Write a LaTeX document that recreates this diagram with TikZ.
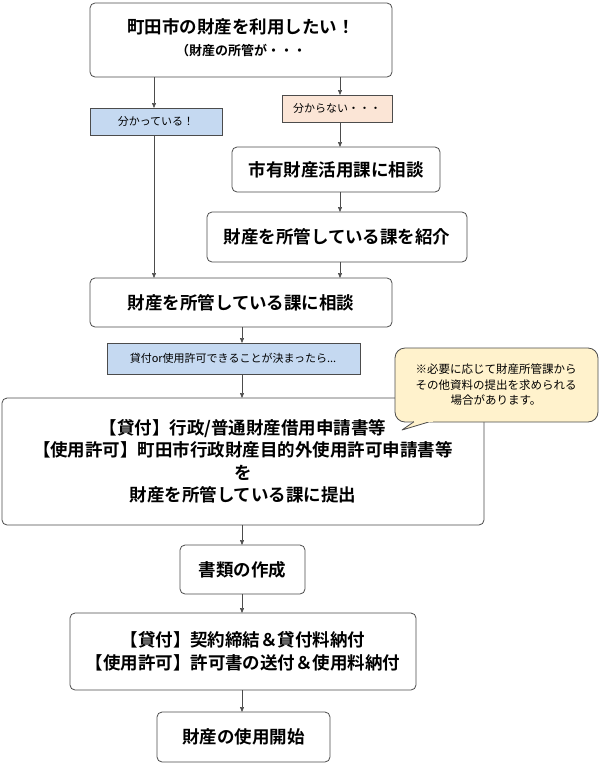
\documentclass[tikz,border=0pt]{standalone}
\usepackage{fontspec}
\setmainfont{Noto Sans CJK JP}[BoldFont={Noto Sans CJK JP Bold}]
\usetikzlibrary{arrows.meta}
\definecolor{lblue}{HTML}{C5D9F1}
\definecolor{peach}{HTML}{FBE5D6}
\definecolor{cream}{HTML}{FFF2CC}
\begin{document}
\begin{tikzpicture}[x=1pt,y=-1pt,
 box/.style={draw=black!70,line width=0.8pt,rounded corners=5pt,fill=white},
 lab/.style={draw=black!70,line width=0.6pt},
 arr/.style={-{Triangle[length=5pt,width=4pt]},draw=black!70,line width=0.6pt},
 big/.style={font=\fontsize{17.5}{22.5}\selectfont\bfseries},
 sm/.style={font=\fontsize{11}{14}\selectfont}]
\useasboundingbox (0,0) rectangle (600,764);
\draw[box] (90,3) rectangle (392,77);
\node[big] (t1) at (241,27) {町田市の財産を利用したい！};
\node[font=\fontsize{13}{16}\selectfont\bfseries] (t2) at (241,51) {（財産の所管が・・・};
\draw[lab,fill=lblue] (90,108) rectangle (222,135);
\node[sm] (lk) at (156,121.5) {分かっている！};
\draw[lab,fill=peach] (282,95) rectangle (392,122);
\node[sm] (lu) at (337,108.5) {分からない・・・};
\draw[box] (232,147) rectangle (440,192); \node[big] (c1) at (336,169.5) {市有財産活用課に相談};
\draw[box] (207,212) rectangle (467,262); \node[big] (c2) at (337,237) {財産を所管している課を紹介};
\draw[box] (90,278) rectangle (392,327); \node[big] (c3) at (241,302.5) {財産を所管している課に相談};
\draw[lab,fill=lblue] (107,343) rectangle (360,374);
\node[sm] (ld) at (233,358.5) {貸付or使用許可できることが決まったら...};
\draw[box] (2,398) rectangle (484,525);
\node[big,align=center] (c4) at (243,461.5) {【貸付】行政/普通財産借用申請書等\\【使用許可】町田市行政財産目的外使用許可申請書等\\を\\財産を所管している課に提出};
\draw[draw=black!70,line width=0.8pt,fill=cream,rounded corners=10pt]
 (430,422) -- (598,422) -- (598,348) -- (395,348) -- (395,422) -- (415,422);
\draw[draw=black!70,line width=0.8pt,fill=cream,line join=round] (415,421) -- (402,430) -- (432,421);
\fill[cream] (414,419) rectangle (433,421.5);
\node[font=\fontsize{11.5}{15.5}\selectfont,align=center] (note) at (496,385) {※必要に応じて財産所管課から\\その他資料の提出を求められる\\場合があります。};
\draw[box] (180,545) rectangle (305,594); \node[big] (c5) at (242.5,569.5) {書類の作成};
\draw[box] (70,613) rectangle (416,690);
\node[big,align=center] (c6) at (243,651.5) {【貸付】契約締結＆貸付料納付\\【使用許可】許可書の送付＆使用料納付};
\draw[box] (157,712) rectangle (330,762); \node[big] (c7) at (243.5,737) {財産の使用開始};
\draw[arr] (154,77) -- (154,108);
\draw[arr] (340,77) -- (340,95);
\draw[arr] (340,122) -- (340,147);
\draw[arr] (340,192) -- (340,212);
\draw[arr] (154,135) -- (154,278);
\draw[arr] (340,262) -- (340,278);
\draw[arr] (242,327) -- (242,343);
\draw[arr] (242,374) -- (242,398);
\draw[arr] (242,525) -- (242,545);
\draw[arr] (242,594) -- (242,613);
\draw[arr] (242,690) -- (242,712);
\end{tikzpicture}
\end{document}
